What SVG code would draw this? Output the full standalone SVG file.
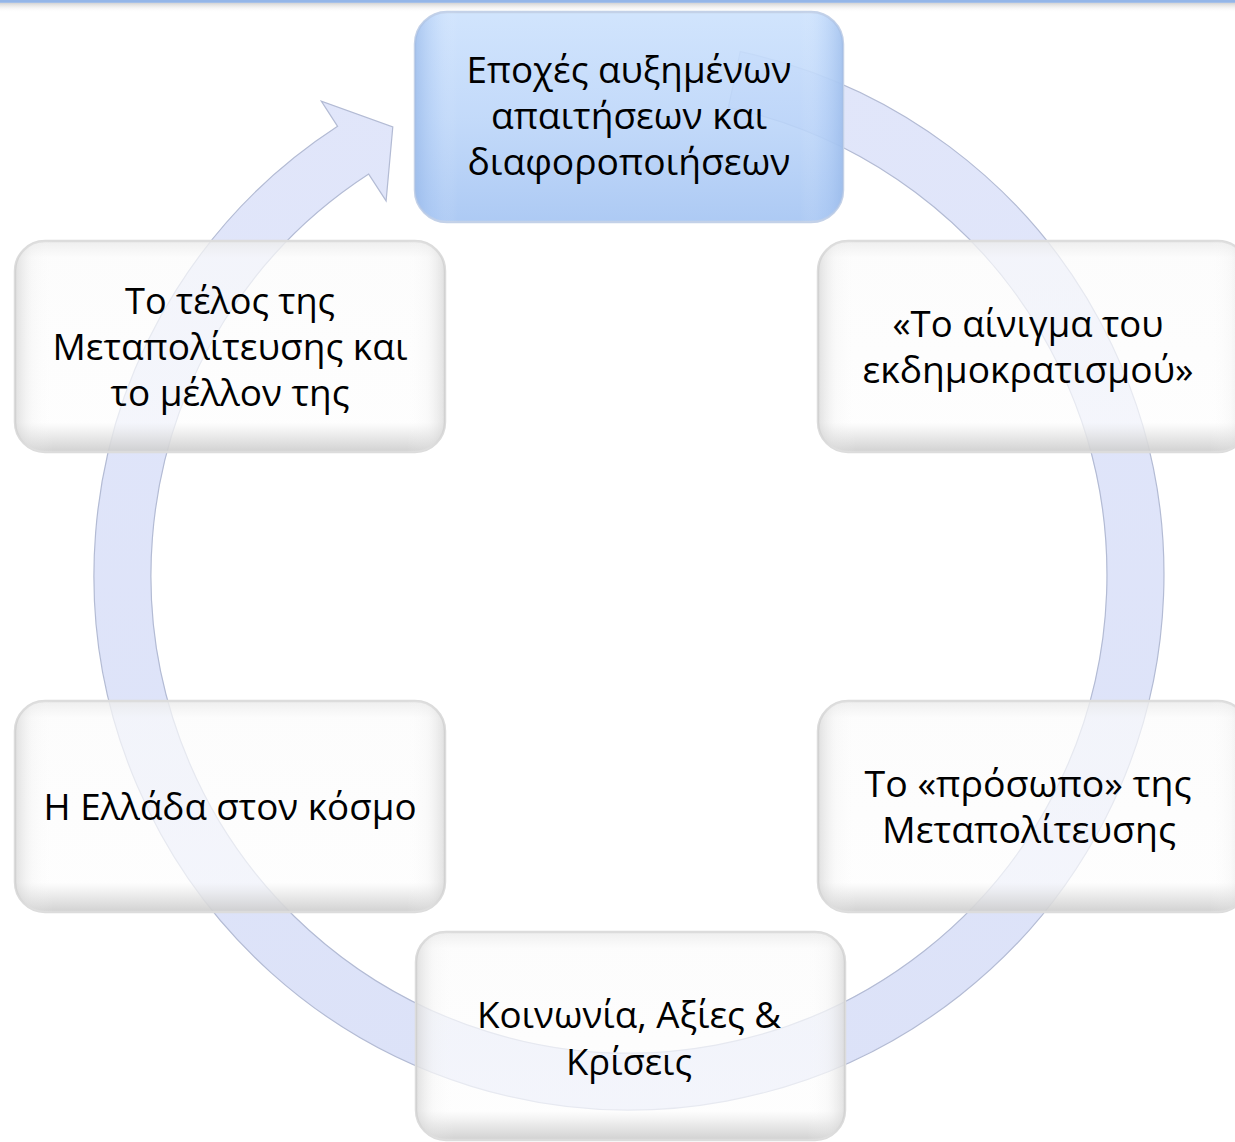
<svg xmlns="http://www.w3.org/2000/svg" width="1235" height="1142" viewBox="0 0 1235 1142">
<style>
  .lbl { font-family: "Open Sans", "Noto Sans", "DejaVu Sans", sans-serif; font-size: 37px; fill: #000; text-anchor: middle; }
  .nbox { stroke: #dcdcdc; stroke-width: 2.5; }
  .wfill { fill: url(#wGrad); }
  .wside { fill: url(#sideGrad); stroke: none; }
</style>
<defs>
  <linearGradient id="topShade" x1="0" y1="0" x2="0" y2="1">
    <stop offset="0" stop-color="#cfcfcf"/>
    <stop offset="1" stop-color="#ffffff" stop-opacity="0"/>
  </linearGradient>
  <linearGradient id="ringGrad" x1="0" y1="0" x2="0" y2="1">
    <stop offset="0" stop-color="#e1e6fa"/>
    <stop offset="1" stop-color="#dce2f8"/>
  </linearGradient>
  <linearGradient id="wGrad" x1="0" y1="0" x2="0" y2="1">
    <stop offset="0" stop-color="#ebebeb" stop-opacity="0.85"/>
    <stop offset="0.08" stop-color="#fbfbfb" stop-opacity="0.7"/>
    <stop offset="0.86" stop-color="#fdfdfd" stop-opacity="0.7"/>
    <stop offset="0.93" stop-color="#e4e4e4" stop-opacity="0.85"/>
    <stop offset="1" stop-color="#cdcdcd" stop-opacity="0.92"/>
  </linearGradient>
  <linearGradient id="sideGrad" x1="0" y1="0" x2="1" y2="0">
    <stop offset="0" stop-color="#c8c8c8" stop-opacity="0.55"/>
    <stop offset="0.04" stop-color="#e8e8e8" stop-opacity="0.2"/>
    <stop offset="0.09" stop-color="#ffffff" stop-opacity="0"/>
    <stop offset="0.91" stop-color="#ffffff" stop-opacity="0"/>
    <stop offset="0.96" stop-color="#e8e8e8" stop-opacity="0.2"/>
    <stop offset="1" stop-color="#c8c8c8" stop-opacity="0.55"/>
  </linearGradient>
  <linearGradient id="bGrad" x1="0" y1="0" x2="0" y2="1">
    <stop offset="0" stop-color="#cde2fd" stop-opacity="0.92"/>
    <stop offset="0.5" stop-color="#bbd5f9" stop-opacity="0.88"/>
    <stop offset="1" stop-color="#a7c6f3" stop-opacity="0.93"/>
  </linearGradient>
  <linearGradient id="bSide" x1="0" y1="0" x2="1" y2="0">
    <stop offset="0" stop-color="#8fb2e6" stop-opacity="0.6"/>
    <stop offset="0.05" stop-color="#a9c7f3" stop-opacity="0.2"/>
    <stop offset="0.1" stop-color="#ffffff" stop-opacity="0"/>
    <stop offset="0.9" stop-color="#ffffff" stop-opacity="0"/>
    <stop offset="0.95" stop-color="#a9c7f3" stop-opacity="0.2"/>
    <stop offset="1" stop-color="#8fb2e6" stop-opacity="0.6"/>
  </linearGradient>
</defs>

<rect x="0" y="0" width="1235" height="1142" fill="#ffffff"/>
<rect x="0" y="2.5" width="1235" height="10" fill="url(#topShade)"/>
<rect x="0" y="0" width="1235" height="2.8" fill="#94b6e8"/>

<g id="connectors">
  <path id="cycle-arrow" d="M 740.2 51.7 A 535 535 0 1 1 337.6 126.3 L 321.3 101.1 L 392.8 126.9 L 386.1 200.9 L 368.7 174.1 A 478 478 0 1 0 728.4 107.5 Z" fill="url(#ringGrad)" stroke="#b3bbd4" stroke-width="1.2" stroke-linejoin="miter"/>
</g>

<g id="node-top">
  <rect x="415" y="12" width="428" height="210" rx="32" fill="url(#bGrad)" stroke="#c3d1e8" stroke-width="2.5"/>
  <rect x="415" y="12" width="428" height="210" rx="32" fill="url(#bSide)"/>
  <text class="lbl" x="629" y="83" textLength="325" lengthAdjust="spacingAndGlyphs">Εποχές αυξημένων</text>
  <text class="lbl" x="629" y="129" textLength="276" lengthAdjust="spacingAndGlyphs">απαιτήσεων και</text>
  <text class="lbl" x="629" y="175" textLength="323" lengthAdjust="spacingAndGlyphs">διαφοροποιήσεων</text>
</g>

<g id="node-top-right">
  <rect class="nbox wfill" x="818" y="241" width="430" height="211" rx="30"/>
  <rect class="wside" x="818" y="241" width="430" height="211" rx="30"/>
  <text class="lbl" x="1028" y="337" textLength="271" lengthAdjust="spacingAndGlyphs">«Το αίνιγμα του</text>
  <text class="lbl" x="1028" y="383" textLength="331" lengthAdjust="spacingAndGlyphs">εκδημοκρατισμού»</text>
</g>

<g id="node-bottom-right">
  <rect class="nbox wfill" x="818" y="701" width="430" height="211" rx="30"/>
  <rect class="wside" x="818" y="701" width="430" height="211" rx="30"/>
  <text class="lbl" x="1028" y="797" textLength="327" lengthAdjust="spacingAndGlyphs">Το «πρόσωπο» της</text>
  <text class="lbl" x="1029" y="843" textLength="294" lengthAdjust="spacingAndGlyphs">Μεταπολίτευσης</text>
</g>

<g id="node-bottom">
  <rect class="nbox wfill" x="416" y="932" width="429" height="208" rx="30"/>
  <rect class="wside" x="416" y="932" width="429" height="208" rx="30"/>
  <text class="lbl" x="629" y="1028" textLength="304" lengthAdjust="spacingAndGlyphs">Κοινωνία, Αξίες &amp;</text>
  <text class="lbl" x="629" y="1075" textLength="126" lengthAdjust="spacingAndGlyphs">Κρίσεις</text>
</g>

<g id="node-bottom-left">
  <rect class="nbox wfill" x="15" y="701" width="430" height="211" rx="30"/>
  <rect class="wside" x="15" y="701" width="430" height="211" rx="30"/>
  <text class="lbl" x="230" y="820" textLength="373" lengthAdjust="spacingAndGlyphs">Η Ελλάδα στον κόσμο</text>
</g>

<g id="node-top-left">
  <rect class="nbox wfill" x="15" y="241" width="430" height="211" rx="30"/>
  <rect class="wside" x="15" y="241" width="430" height="211" rx="30"/>
  <text class="lbl" x="230" y="314" textLength="210" lengthAdjust="spacingAndGlyphs">Το τέλος της</text>
  <text class="lbl" x="230" y="360" textLength="355" lengthAdjust="spacingAndGlyphs">Μεταπολίτευσης και</text>
  <text class="lbl" x="230" y="406" textLength="239" lengthAdjust="spacingAndGlyphs">το μέλλον της</text>
</g>
</svg>
